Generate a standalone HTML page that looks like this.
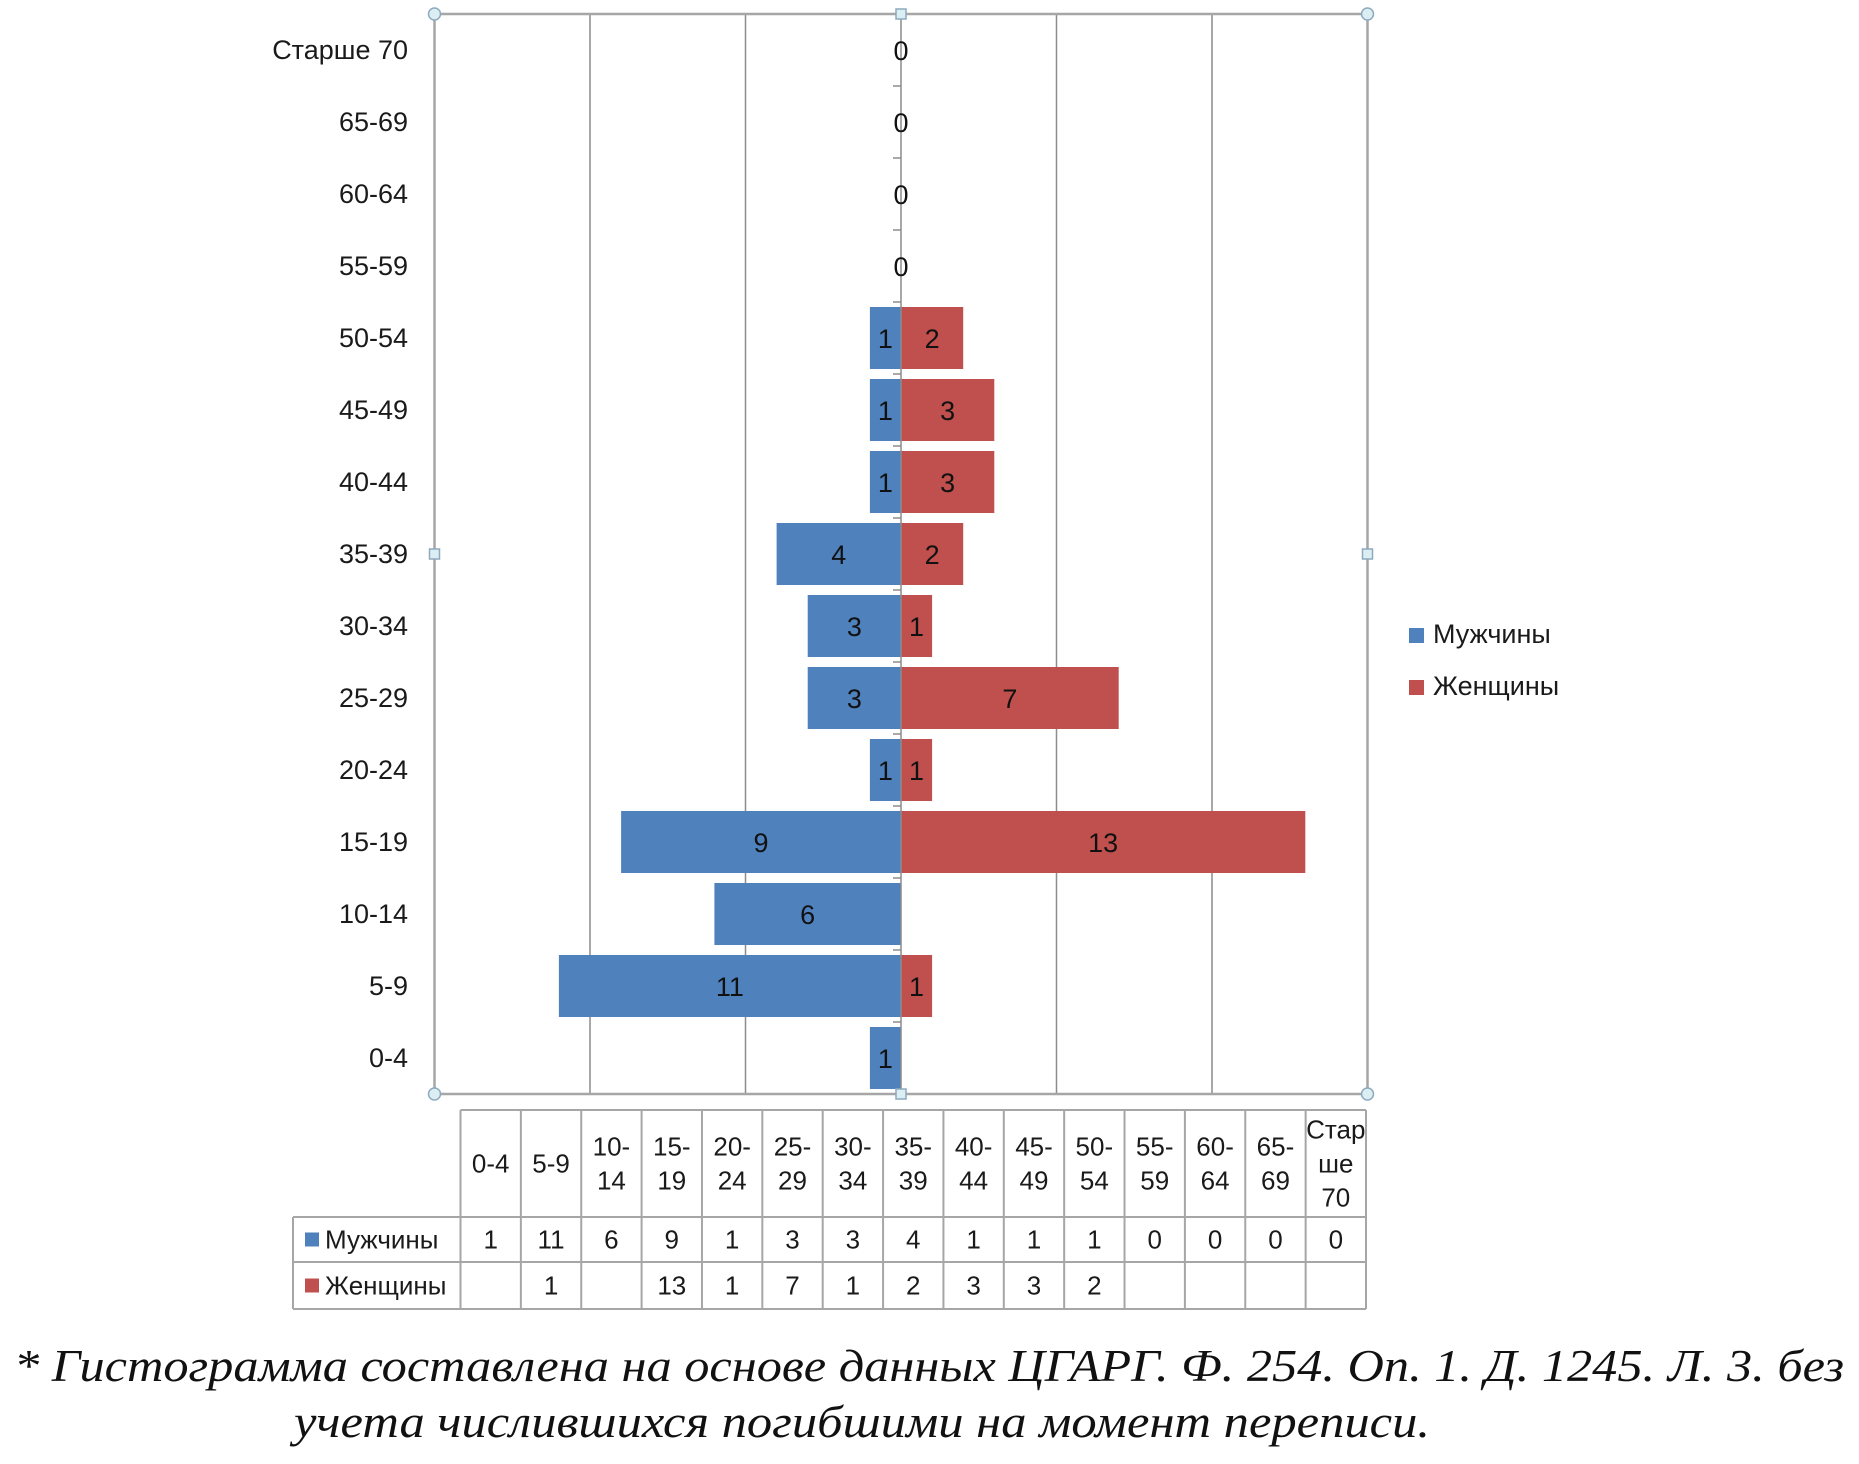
<!DOCTYPE html>
<html><head><meta charset="utf-8"><style>
html,body{margin:0;padding:0;background:#fff;}
svg{display:block;}
</style></head><body>
<svg id="chart" width="1859" height="1464" viewBox="0 0 1859 1464" xmlns="http://www.w3.org/2000/svg" font-family="'Liberation Sans Narrow','Liberation Sans','DejaVu Sans',sans-serif"></svg>
<script>
const categories = ['0-4','5-9','10-14','15-19','20-24','25-29','30-34','35-39','40-44','45-49','50-54','55-59','60-64','65-69','Старше 70'];
const headerLabels = [['0-4'],['5-9'],['10-','14'],['15-','19'],['20-','24'],['25-','29'],['30-','34'],['35-','39'],['40-','44'],['45-','49'],['50-','54'],['55-','59'],['60-','64'],['65-','69'],['Стар','ше','70']];
const men = [1,11,6,9,1,3,3,4,1,1,1,0,0,0,0];
const women = [null,1,null,13,1,7,1,2,3,3,2,null,null,null,null];
const gridTicks = [-15,-10,-5,0,5,10,15];

const NS='http://www.w3.org/2000/svg';
const svg=document.getElementById('chart');
function mk(tag,attrs,parent){const e=document.createElementNS(NS,tag);for(const k in attrs)e.setAttribute(k,attrs[k]);(parent||svg).appendChild(e);return e;}
const L=434.5,R=1367.5,T=14,B=1094,CX=(L+R)/2;
const x=v=>CX+v*(R-L)/30;
const n=categories.length, slot=(B-T)/n;
const yTop=i=>T+(n-1-i)*slot;
const BH=62;

// gridlines
gridTicks.forEach(t=>{
  if(t===0||Math.abs(t)===15) return;
  const g=mk('line',{x1:x(t),x2:x(t),y1:T,y2:B,stroke:'#8c8c8c','stroke-width':1.5});
  
  
});
// plot border
const pb=mk('rect',{x:L,y:T,width:R-L,height:B-T,fill:'none',stroke:'#a6a6a6','stroke-width':2.5});



// bars
categories.forEach((c,i)=>{
  const yc=yTop(i)+slot/2, y0=yc-BH/2;
  if(men[i]>0){
    const b=mk('rect',{x:x(-men[i]),y:y0,width:x(0)-x(-men[i]),height:BH,fill:'#4f81bd'});
    
    
  }
  if(women[i]>0){
    const b=mk('rect',{x:x(0),y:y0,width:x(women[i])-x(0),height:BH,fill:'#c0504d'});
    
    
  }
});
// center axis + ticks
const ax=mk('line',{x1:CX,x2:CX,y1:T,y2:B,stroke:'#8c8c8c','stroke-width':1.5});


for(let k=1;k<n;k++){
  const tk=mk('line',{x1:CX-8,x2:CX,y1:T+k*slot,y2:T+k*slot,stroke:'#8c8c8c','stroke-width':1.5});
  
  
}
// labels
categories.forEach((c,i)=>{
  const yc=yTop(i)+slot/2;
  const t=mk('text',{x:408,y:yc+9,'text-anchor':'end','font-size':27,fill:'#1a1a1a'});
  t.textContent=c;
  
  
  if(men[i]>0){
    const m=mk('text',{x:(x(-men[i])+x(0))/2,y:yc+10,'text-anchor':'middle','font-size':27,fill:'#111'});
    m.textContent=men[i];
    
    
  } else {
    const m=mk('text',{x:CX,y:yc+10,'text-anchor':'middle','font-size':27,fill:'#111'});
    m.textContent='0';
    
    
  }
  if(women[i]>0){
    const w=mk('text',{x:(x(women[i])+x(0))/2,y:yc+10,'text-anchor':'middle','font-size':27,fill:'#111'});
    w.textContent=women[i];
    
    
  }
});
// handles
[[L,T],[R,T],[L,B],[R,B]].forEach(p=>{
  const h=mk('circle',{cx:p[0],cy:p[1],r:6,fill:'#dbeef4',stroke:'#8eaabd','stroke-width':1.5});
  
  
});
[[CX,T],[CX,B],[L,(T+B)/2],[R,(T+B)/2]].forEach(p=>{
  const h=mk('rect',{x:p[0]-5,y:p[1]-5,width:10,height:10,fill:'#dbeef4',stroke:'#8eaabd','stroke-width':1.5});
  
  
});
// legend
[['Мужчины','#4f81bd',628],['Женщины','#c0504d',680]].forEach(l=>{
  const s=mk('rect',{x:1409,y:l[2],width:15,height:15,fill:l[1]});
  
  
  const t=mk('text',{x:1433,y:l[2]+15,'font-size':27,fill:'#1a1a1a'});
  t.textContent=l[0];
  
  
});
// data table
const TL=293, C0=460.5, TR=1366, cw=(TR-C0)/15;
const H0=1110,H1=1217,R1=1262,R2=1309;
const tb=mk('g',{});


const st={stroke:'#a6a6a6','stroke-width':2};
mk('line',Object.assign({x1:C0,x2:TR,y1:H0,y2:H0},st),tb);
mk('line',Object.assign({x1:TL,x2:TR,y1:H1,y2:H1},st),tb);
mk('line',Object.assign({x1:TL,x2:TR,y1:R1,y2:R1},st),tb);
mk('line',Object.assign({x1:TL,x2:TR,y1:R2,y2:R2},st),tb);
mk('line',Object.assign({x1:TL,x2:TL,y1:H1,y2:R2},st),tb);
for(let k=0;k<=15;k++) mk('line',Object.assign({x1:C0+k*cw,x2:C0+k*cw,y1:H0,y2:R2},st),tb);
headerLabels.forEach((h,k)=>{
  const cx=C0+(k+0.5)*cw, mid=(H0+H1)/2, lh=34;
  h.forEach((s,j)=>{
    const t=mk('text',{x:cx,y:mid+(j-(h.length-1)/2)*lh+9,'text-anchor':'middle','font-size':26,fill:'#1a1a1a'},tb);
    t.textContent=s;
    
    
  });
});
[['Мужчины','#4f81bd',men,R1],['Женщины','#c0504d',women,R2]].forEach((r,ri)=>{
  const top=ri===0?H1:R1, mid=(top+r[3])/2;
  mk('rect',{x:TL+12,y:mid-7,width:14,height:14,fill:r[1]},tb);
  const t=mk('text',{x:TL+32,y:mid+9,'font-size':26,fill:'#1a1a1a'},tb);
  t.textContent=r[0];
  
  
  r[2].forEach((v,k)=>{
    if(v===null) return;
    const c=mk('text',{x:C0+(k+0.5)*cw,y:mid+9,'text-anchor':'middle','font-size':26,fill:'#1a1a1a'},tb);
    c.textContent=v;
    
    
  });
});
// footnote
const f1=mk('text',{x:929,y:1381,'text-anchor':'middle','font-size':45,'font-style':'italic','font-family':"'Liberation Serif',serif",fill:'#111',textLength:1830,lengthAdjust:'spacingAndGlyphs'});
f1.textContent='* Гистограмма составлена на основе данных ЦГАРГ. Ф. 254. Оп. 1. Д. 1245. Л. 3. без';


const f2=mk('text',{x:862,y:1437,'text-anchor':'middle','font-size':45,'font-style':'italic','font-family':"'Liberation Serif',serif",fill:'#111',textLength:1136,lengthAdjust:'spacingAndGlyphs'});
f2.textContent='учета числившихся погибшими на момент переписи.';


</script>
</body></html>
